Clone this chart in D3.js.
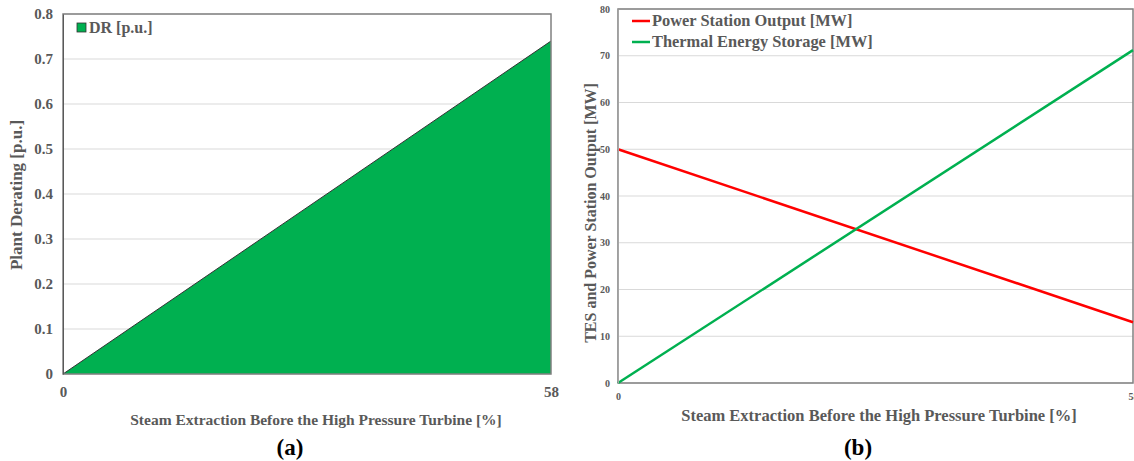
<!DOCTYPE html>
<html>
<head>
<meta charset="utf-8">
<script src="https://cdn.jsdelivr.net/npm/d3@7"></script>
<style>
  body { margin: 0; background: #fff; }
  text { font-family: "Liberation Serif", "Times New Roman", serif; font-weight: bold; }
</style>
</head>
<body>
<div class="visContainer"></div>
<script>
// Data.
const extraction = [0, 58];          // steam extraction [%]
const derating = [0, 0.74];          // DR [p.u.]
const powerOutput = [50, 13];        // Power Station Output [MW]
const tesOutput = [0, 71.2];         // Thermal Energy Storage [MW]
const deratingTicks = [0, 0.1, 0.2, 0.3, 0.4, 0.5, 0.6, 0.7, 0.8];
const mwTicks = [0, 10, 20, 30, 40, 50, 60, 70, 80];

const width = 1134;
const height = 461;
const gridColor = '#d9d9d9';
const textColor = '#595959';
const green = '#00b050';
const red = '#ff0000';

const svg = d3.select('.visContainer')
              .append('svg')
              .attr('width', width)
              .attr('height', height);

// ---------- Panel (a) ----------
const xA = d3.scaleLinear().domain([0, 58]).range([63, 551]);
const yA = d3.scaleLinear().domain([0, 0.8]).range([374, 14]);

const gA = svg.append('g');

// Gridlines.
gA.selectAll('.grid')
  .data(deratingTicks)
  .enter()
  .append('line')
  .attr('x1', xA(0))
  .attr('x2', xA(58))
  .attr('y1', (d) => yA(d))
  .attr('y2', (d) => yA(d))
  .attr('stroke', gridColor)
  .attr('stroke-width', 1);

// Area.
const areaData = extraction.map((x, i) => ({x: x, y: derating[i]}));
gA.append('path')
  .datum(areaData)
  .attr('d', d3.area().x((d) => xA(d.x)).y0(yA(0)).y1((d) => yA(d.y)))
  .attr('fill', green);
gA.append('path')
  .datum(areaData)
  .attr('d', d3.line().x((d) => xA(d.x)).y((d) => yA(d.y)))
  .attr('fill', 'none')
  .attr('stroke', '#333')
  .attr('stroke-width', 1);

// Frame.
gA.append('rect')
  .attr('x', xA(0))
  .attr('y', yA(0.8))
  .attr('width', xA(58) - xA(0))
  .attr('height', yA(0) - yA(0.8))
  .attr('fill', 'none')
  .attr('stroke', '#808080')
  .attr('stroke-width', 1.5);

// Axes.
const yAxisA = d3.axisLeft(yA).tickValues(deratingTicks).tickSize(0).tickPadding(10)
                 .tickFormat((d) => d === 0 ? '0' : d3.format('.1f')(d));
gA.append('g')
  .attr('transform', 'translate(' + xA(0) + ',0)')
  .call(yAxisA)
  .call((g) => g.select('.domain').attr('stroke', '#595959'))
  .selectAll('text')
  .attr('font-size', '15px')
  .attr('fill', textColor);

const xAxisA = d3.axisBottom(xA).tickValues(extraction).tickSize(0).tickPadding(12)
                 .tickFormat(d3.format('d'));
gA.append('g')
  .attr('transform', 'translate(0,' + yA(0) + ')')
  .call(xAxisA)
  .call((g) => g.select('.domain').remove())
  .selectAll('text')
  .attr('font-size', '15px')
  .attr('fill', textColor);

gA.append('text')
  .attr('x', 316)
  .attr('y', 425)
  .attr('text-anchor', 'middle')
  .attr('font-size', '15.5px')
  .attr('fill', textColor)
  .text('Steam Extraction Before the High Pressure Turbine [%]');

gA.append('text')
  .attr('transform', 'translate(22,195) rotate(-90)')
  .attr('text-anchor', 'middle')
  .attr('font-size', '17px')
  .attr('fill', textColor)
  .text('Plant Derating [p.u.]');

// Legend.
gA.append('rect')
  .attr('x', 77).attr('y', 23).attr('width', 9).attr('height', 9)
  .attr('fill', green).attr('stroke', '#333').attr('stroke-width', 0.8);
gA.append('text')
  .attr('x', 89).attr('y', 33)
  .attr('font-size', '16px')
  .attr('fill', textColor)
  .text('DR [p.u.]');

svg.append('text')
   .attr('x', 290).attr('y', 455)
   .attr('text-anchor', 'middle')
   .attr('font-size', '23px')
   .attr('fill', '#000')
   .text('(a)');

// ---------- Panel (b) ----------
const xB = d3.scaleLinear().domain([0, 58]).range([618, 1133]);
const yB = d3.scaleLinear().domain([0, 80]).range([383, 9]);

const gB = svg.append('g');

gB.selectAll('.grid')
  .data(mwTicks)
  .enter()
  .append('line')
  .attr('x1', xB(0))
  .attr('x2', xB(58))
  .attr('y1', (d) => yB(d))
  .attr('y2', (d) => yB(d))
  .attr('stroke', gridColor)
  .attr('stroke-width', 1);

gB.append('rect')
  .attr('x', xB(0))
  .attr('y', yB(80))
  .attr('width', xB(58) - xB(0))
  .attr('height', yB(0) - yB(80))
  .attr('fill', 'none')
  .attr('stroke', '#808080')
  .attr('stroke-width', 1.5);

const lineB = d3.line().x((d) => xB(d.x)).y((d) => yB(d.y));
const series = [
  {name: 'Power Station Output [MW]', color: red, values: powerOutput},
  {name: 'Thermal Energy Storage [MW]', color: green, values: tesOutput}
];

gB.selectAll('.series')
  .data(series)
  .enter()
  .append('path')
  .attr('d', (s) => lineB(extraction.map((x, i) => ({x: x, y: s.values[i]}))))
  .attr('fill', 'none')
  .attr('stroke', (s) => s.color)
  .attr('stroke-width', 2.5);

const yAxisB = d3.axisLeft(yB).tickValues(mwTicks).tickSize(0).tickPadding(8)
                 .tickFormat(d3.format('d'));
gB.append('g')
  .attr('transform', 'translate(' + xB(0) + ',0)')
  .call(yAxisB)
  .call((g) => g.select('.domain').attr('stroke', '#a6a6a6'))
  .selectAll('text')
  .attr('font-size', '10px')
  .attr('fill', textColor);

const xAxisB = d3.axisBottom(xB).tickValues(extraction).tickSize(0).tickPadding(10)
                 .tickFormat(d3.format('d'));
gB.append('g')
  .attr('transform', 'translate(0,' + yB(0) + ')')
  .call(xAxisB)
  .call((g) => g.select('.domain').remove())
  .selectAll('text')
  .attr('font-size', '10px')
  .attr('fill', textColor);

gB.append('text')
  .attr('x', 879)
  .attr('y', 421)
  .attr('text-anchor', 'middle')
  .attr('font-size', '16.5px')
  .attr('fill', textColor)
  .text('Steam Extraction Before the High Pressure Turbine [%]');

gB.append('text')
  .attr('transform', 'translate(596,213) rotate(-90)')
  .attr('text-anchor', 'middle')
  .attr('font-size', '16px')
  .attr('fill', textColor)
  .text('TES and Power Station Output [MW]');

// Legend.
const legendB = gB.selectAll('.legend')
  .data(series)
  .enter()
  .append('g')
  .attr('transform', (s, i) => 'translate(632,' + (21 + i * 21) + ')');
legendB.append('line')
  .attr('x1', 0).attr('x2', 18)
  .attr('stroke', (s) => s.color)
  .attr('stroke-width', 2.5);
legendB.append('text')
  .attr('x', 20).attr('y', 5)
  .attr('font-size', '16.4px')
  .attr('fill', textColor)
  .text((s) => s.name);

svg.append('text')
   .attr('x', 858).attr('y', 455)
   .attr('text-anchor', 'middle')
   .attr('font-size', '23px')
   .attr('fill', '#000')
   .text('(b)');
</script>
</body>
</html>
